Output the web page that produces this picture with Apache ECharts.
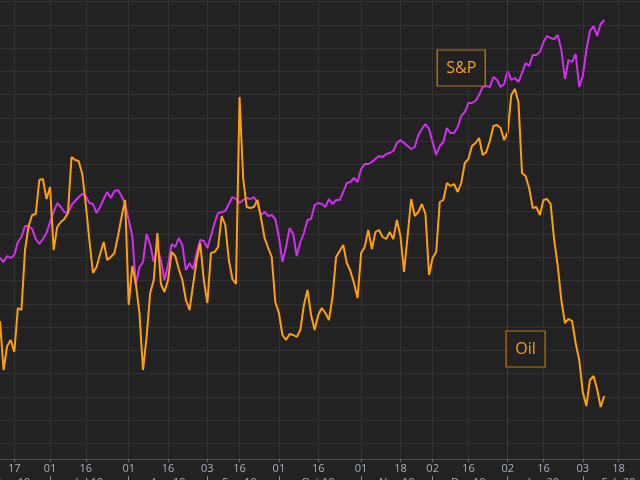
<!DOCTYPE html>
<html><head><meta charset="utf-8">
<script src="https://cdn.jsdelivr.net/npm/echarts@6/dist/echarts.min.js"></script>
<style>html,body{margin:0;padding:0;background:#222222;overflow:hidden;}#c{width:640px;height:480px;}</style>
</head><body><div id="c"></div>
<script>
const tradingDays = [
'2019-06-11','2019-06-12','2019-06-13','2019-06-14','2019-06-17','2019-06-18','2019-06-19','2019-06-20','2019-06-21','2019-06-24','2019-06-25','2019-06-26','2019-06-27','2019-06-28',
'2019-07-01','2019-07-02','2019-07-03','2019-07-05','2019-07-08','2019-07-09','2019-07-10','2019-07-11','2019-07-12','2019-07-15','2019-07-16','2019-07-17','2019-07-18','2019-07-19','2019-07-22','2019-07-23','2019-07-24','2019-07-25','2019-07-26','2019-07-29','2019-07-30','2019-07-31',
'2019-08-01','2019-08-02','2019-08-05','2019-08-06','2019-08-07','2019-08-08','2019-08-09','2019-08-12','2019-08-13','2019-08-14','2019-08-15','2019-08-16','2019-08-19','2019-08-20','2019-08-21','2019-08-22','2019-08-23','2019-08-26','2019-08-27','2019-08-28','2019-08-29','2019-08-30',
'2019-09-03','2019-09-04','2019-09-05','2019-09-06','2019-09-09','2019-09-10','2019-09-11','2019-09-12','2019-09-13','2019-09-16','2019-09-17','2019-09-18','2019-09-19','2019-09-20','2019-09-23','2019-09-24','2019-09-25','2019-09-26','2019-09-27','2019-09-30',
'2019-10-01','2019-10-02','2019-10-03','2019-10-04','2019-10-07','2019-10-08','2019-10-09','2019-10-10','2019-10-11','2019-10-14','2019-10-15','2019-10-16','2019-10-17','2019-10-18','2019-10-21','2019-10-22','2019-10-23','2019-10-24','2019-10-25','2019-10-28','2019-10-29','2019-10-30','2019-10-31',
'2019-11-01','2019-11-04','2019-11-05','2019-11-06','2019-11-07','2019-11-08','2019-11-11','2019-11-12','2019-11-13','2019-11-14','2019-11-15','2019-11-18','2019-11-19','2019-11-20','2019-11-21','2019-11-22','2019-11-25','2019-11-26','2019-11-27','2019-11-29',
'2019-12-02','2019-12-03','2019-12-04','2019-12-05','2019-12-06','2019-12-09','2019-12-10','2019-12-11','2019-12-12','2019-12-13','2019-12-16','2019-12-17','2019-12-18','2019-12-19','2019-12-20','2019-12-23','2019-12-24','2019-12-26','2019-12-27','2019-12-30','2019-12-31',
'2020-01-02','2020-01-03','2020-01-06','2020-01-07','2020-01-08','2020-01-09','2020-01-10','2020-01-13','2020-01-14','2020-01-15','2020-01-16','2020-01-17','2020-01-21','2020-01-22','2020-01-23','2020-01-24','2020-01-27','2020-01-28','2020-01-29','2020-01-30','2020-01-31',
'2020-02-03','2020-02-04','2020-02-05','2020-02-06','2020-02-07','2020-02-10','2020-02-11','2020-02-12','2020-02-13','2020-02-14','2020-02-18','2020-02-19','2020-02-20','2020-02-21','2020-02-24','2020-02-25','2020-02-26'
];

const spx = [
2886,2878,2890,2886,2892,2918,2928,2950,2950,2944,
2924,2914,2924,2936,2958,2978,2996,2988,2978,2976,
2992,3000,3008,3014,3010,2996,2994,2976,2988,3004,
3018,3006,3020,3022,3010,2994,2962,2930,2832,2868,
2878,2934,2914,2878,2906,2882,2842,2872,2914,2908,
2926,2912,2862,2876,2864,2896,2922,2920,2906,2930,
2956,2976,2978,2980,2994,3008,3004,2996,3002,3006,
3004,3008,2996,2972,2978,2970,2972,2964,2928,2878,
2908,2946,2934,2890,2918,2936,2962,2964,2992,2996,
2994,2988,3004,2994,3002,3002,3018,3036,3038,3046,
3038,3064,3074,3074,3078,3084,3090,3088,3094,3096,
3100,3116,3122,3116,3110,3104,3108,3132,3144,3154,
3144,3118,3092,3110,3118,3146,3136,3136,3148,3170,
3178,3196,3196,3200,3212,3228,3230,3228,3248,3242,
3228,3234,3260,3242,3246,3238,3256,3276,3270,3292,
3292,3298,3318,3330,3326,3324,3332,3302,3244,3282,
3278,3294,3228,3250,3302,3340,3350,3330,3354,3362
];

const oil = [
54.02,52.06,53.02,53.26,52.78,54.54,54.46,56.86,57.82,58.26,
58.30,59.66,59.70,58.90,59.38,56.86,57.78,57.98,58.10,58.34,
60.58,60.46,60.42,59.90,58.66,57.26,55.94,56.18,56.70,57.18,
56.46,56.58,56.74,57.42,58.18,58.86,54.66,56.22,55.50,54.34,
52.06,53.38,55.14,55.66,57.54,55.50,55.18,55.66,56.78,56.62,
56.10,55.66,54.86,54.46,55.46,56.46,57.14,55.66,54.74,56.74,
56.78,56.98,58.22,57.86,56.46,55.70,55.50,62.98,59.74,58.58,
58.54,58.58,58.86,58.14,57.34,56.94,56.58,54.78,54.34,53.46,
53.26,53.50,53.46,53.38,53.66,54.66,55.26,54.26,53.66,54.26,
54.54,54.34,54.06,54.98,56.58,56.82,57.06,56.34,56.02,55.54,
54.94,56.74,56.98,57.66,56.90,57.58,57.66,57.38,57.30,57.58,
57.30,58.06,57.42,55.98,57.42,58.90,58.22,58.38,58.70,58.30,
55.86,56.54,56.78,58.78,58.86,59.54,59.42,59.50,59.18,59.54,
60.34,60.50,61.02,61.14,61.34,60.66,60.78,61.22,61.82,61.86,
61.74,61.26,61.58,63.06,63.30,62.78,59.94,59.82,59.34,58.54,
58.58,58.26,58.86,58.90,58.70,57.26,56.22,54.86,53.94,54.10,
54.02,53.14,52.46,51.18,50.62,51.66,51.82,51.30,50.58,51.02
];

const tickDates = ['2019-06-17','2019-07-01','2019-07-16','2019-08-01','2019-08-16','2019-09-03','2019-09-16','2019-10-01','2019-10-16','2019-11-01','2019-11-18','2019-12-02','2019-12-16','2020-01-02','2020-01-16','2020-02-03','2020-02-18'];
const monthStartDates = ['2019-07-01','2019-08-01','2019-09-03','2019-10-01','2019-11-01','2019-12-02','2020-01-02','2020-02-03'];
const monthLabelDates = ['2019-06-17','2019-07-17','2019-08-16','2019-09-16','2019-10-16','2019-11-15','2019-12-16','2020-01-16','2020-02-18'];
const monthNames = ['Jan','Feb','Mar','Apr','May','Jun','Jul','Aug','Sep','Oct','Nov','Dec'];
const yearStart = '2020-01-02';
const spxTag = {date:'2019-12-12', value:3266, text:'S&P'};
const oilTag = {date:'2020-01-09', value:52.9, text:'Oil'};

const isTick = (i, v) => tickDates.indexOf(v) >= 0;
const isMonthStart = (i, v) => monthStartDates.indexOf(v) >= 0;
const isMonthLabel = (i, v) => monthLabelDates.indexOf(v) >= 0;

const gridColor = '#313131';
const labelColor = '#a7b1bf';
const tag = (t, w) => ({
  coord: [t.date, t.value],
  symbol: 'rect', symbolSize: [w, 36],
  itemStyle: {color: '#222222', borderColor: '#bb740e', borderWidth: 1.2},
  label: {show: true, position: 'inside', formatter: t.text, color: '#f7a01a', fontSize: 16, fontFamily: 'Open Sans'}
});

const chart = echarts.init(document.getElementById('c'));
chart.setOption({
  backgroundColor: '#222222',
  animation: false,
  textStyle: {fontFamily: 'Open Sans'},
  grid: [
    {left: 0, right: 0, top: 0, bottom: 21, containLabel: false, outerBoundsMode: 'none'},
    {left: 0, right: 0, top: 1.7, height: 441.75, containLabel: false, outerBoundsMode: 'none'}
  ],
  xAxis: [
    {type: 'category', gridIndex: 0, data: tradingDays, boundaryGap: false,
     axisLine: {lineStyle: {color: '#4f4f4f'}},
     axisTick: {show: true, length: 3, interval: isTick, lineStyle: {color: '#6a6a6a'}},
     axisLabel: {interval: isTick, formatter: v => v.slice(8), color: labelColor, fontSize: 11, margin: 4},
     splitLine: {show: true, interval: isTick, lineStyle: {color: gridColor}}},
    {type: 'category', gridIndex: 0, data: tradingDays, boundaryGap: false, position: 'bottom', offset: 17,
     axisLine: {show: false},
     axisTick: {show: true, length: 5, interval: isMonthStart, lineStyle: {color: '#8a8a8a'}},
     axisLabel: {interval: isMonthLabel, formatter: v => monthNames[parseInt(v.slice(5, 7), 10) - 1] + ' ' + v.slice(2, 4), color: labelColor, fontSize: 11, margin: 1},
     splitLine: {show: false}},
    {type: 'value', gridIndex: 1, show: false, min: 0, max: 1}
  ],
  yAxis: [
    {type: 'value', gridIndex: 0, min: 2484, max: 3402, show: false},
    {type: 'value', gridIndex: 0, min: 48.5, max: 66.86, show: false},
    {type: 'value', gridIndex: 1, min: 0, max: 19, interval: 1,
     axisLine: {show: false}, axisTick: {show: false}, axisLabel: {show: false},
     splitLine: {show: true, lineStyle: {color: gridColor}}}
  ],
  series: [
    {name: 'S&P', type: 'line', xAxisIndex: 0, yAxisIndex: 0, data: spx,
     showSymbol: false, symbol: 'none', lineStyle: {color: '#d22ff2', width: 2}, itemStyle: {color: '#d22ff2'},
     markLine: {silent: true, symbol: ['none', 'none'], label: {show: false},
       lineStyle: {color: '#3d3d3d', type: 'solid', width: 1}, data: [{xAxis: yearStart}]},
     markPoint: {data: [tag(spxTag, 48)]}},
    {name: 'Oil', type: 'line', xAxisIndex: 0, yAxisIndex: 1, data: oil,
     showSymbol: false, symbol: 'none', lineStyle: {color: '#ff9f0f', width: 2}, itemStyle: {color: '#ff9f0f'},
     markPoint: {data: [tag(oilTag, 39)]}}
  ]
});
</script></body></html>
